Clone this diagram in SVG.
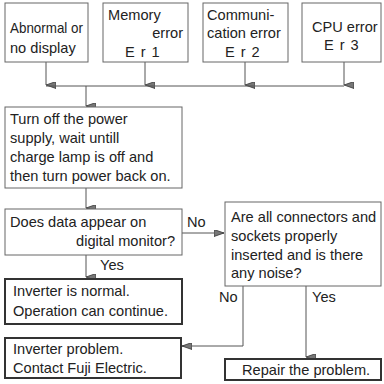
<svg xmlns="http://www.w3.org/2000/svg" width="384" height="384" viewBox="0 0 384 384">
<style>
text{font-family:"Liberation Sans",Arial,sans-serif;font-size:14.6px;fill:#222}
.thin{fill:#fff;stroke:#666;stroke-width:1}
.bold{fill:#fff;stroke:#333;stroke-width:2}
.ln{fill:none;stroke:#555;stroke-width:1}
.r{text-anchor:end}
</style>
<defs>
<marker id="ah" viewBox="0 0 7 10" refX="3.5" refY="10" markerWidth="7" markerHeight="10" markerUnits="userSpaceOnUse" orient="auto-start-reverse">
<path d="M0,0 L7,0 L3.5,10 Z" fill="#777" stroke="#333" stroke-width="0.8"/>
</marker>
<marker id="ar" viewBox="0 0 10 7" refX="10" refY="3.5" markerWidth="10" markerHeight="7" markerUnits="userSpaceOnUse" orient="auto">
<path d="M0,0 L10,3.5 L0,7 Z" fill="#777" stroke="#333" stroke-width="0.8"/>
</marker>
</defs>
<rect width="384" height="384" fill="#fff"/>
<g id="connectors">
<line class="ln" x1="46" y1="62" x2="46" y2="85" marker-end="url(#ah)"/>
<line class="ln" x1="145" y1="62" x2="145" y2="85" marker-end="url(#ah)"/>
<line class="ln" x1="245" y1="62" x2="245" y2="85" marker-end="url(#ah)"/>
<line class="ln" x1="344" y1="62" x2="344" y2="85" marker-end="url(#ah)"/>
<line class="ln" x1="46" y1="86" x2="344" y2="86"/>
<line class="ln" x1="86" y1="86" x2="86" y2="106" marker-end="url(#ah)"/>
<line class="ln" x1="86" y1="188" x2="86" y2="208" marker-end="url(#ah)"/>
<line class="ln" x1="182" y1="233" x2="224" y2="233" marker-end="url(#ar)"/>
<line class="ln" x1="86" y1="255" x2="86" y2="277" marker-end="url(#ah)"/>
<polyline class="ln" points="243,286 243,346 182,346" marker-end="url(#ar)"/>
<line class="ln" x1="306" y1="286" x2="306" y2="357" marker-end="url(#ah)"/>
</g>
<g id="n1"><rect class="thin" x="5" y="3" width="83" height="59"/>
<text x="10" y="33" textLength="73" lengthAdjust="spacingAndGlyphs">Abnormal or</text><text x="10" y="53">no display</text></g>
<g id="n2"><rect class="thin" x="103" y="3" width="85" height="59"/>
<text x="108" y="20">Memory</text><text class="r" x="183" y="38">error</text><text x="125" y="57" letter-spacing="6">Er1</text></g>
<g id="n3"><rect class="thin" x="203" y="3" width="85" height="59"/>
<text x="207" y="20">Communi-</text><text x="207" y="38">cation error</text><text x="225" y="57" letter-spacing="6">Er2</text></g>
<g id="n4"><rect class="thin" x="302" y="3" width="79" height="59"/>
<text x="312" y="32">CPU error</text><text x="324" y="50" letter-spacing="6">Er3</text></g>
<g id="n5"><rect class="thin" x="5" y="107" width="177" height="81"/>
<text x="10" y="124">Turn off the power</text><text x="10" y="143">supply, wait untill</text><text x="10" y="162">charge lamp is off and</text><text x="10" y="181">then turn power back on.</text></g>
<g id="n6"><rect class="thin" x="5" y="209" width="177" height="46"/>
<text x="10" y="227">Does data appear on</text><text class="r" x="175" y="246">digital monitor?</text></g>
<text x="187" y="227">No</text>
<text x="100" y="270">Yes</text>
<g id="n7"><rect class="thin" x="225" y="202" width="156" height="84"/>
<text x="231" y="222">Are all connectors and</text><text x="231" y="241">sockets properly</text><text x="231" y="260">inserted and is there</text><text x="231" y="278">any noise?</text></g>
<g id="n8"><rect class="bold" x="5" y="279" width="177" height="45"/>
<text x="13" y="296">Inverter is normal.</text><text x="13" y="316">Operation can continue.</text></g>
<text x="219" y="302">No</text>
<text x="312" y="302">Yes</text>
<g id="n9"><rect class="bold" x="5" y="338" width="176" height="40"/>
<text x="13" y="354">Inverter problem.</text><text x="13" y="373">Contact Fuji Electric.</text></g>
<g id="n10"><rect class="bold" x="225" y="359" width="156" height="21"/>
<text x="242" y="375">Repair the problem.</text></g>
</svg>
